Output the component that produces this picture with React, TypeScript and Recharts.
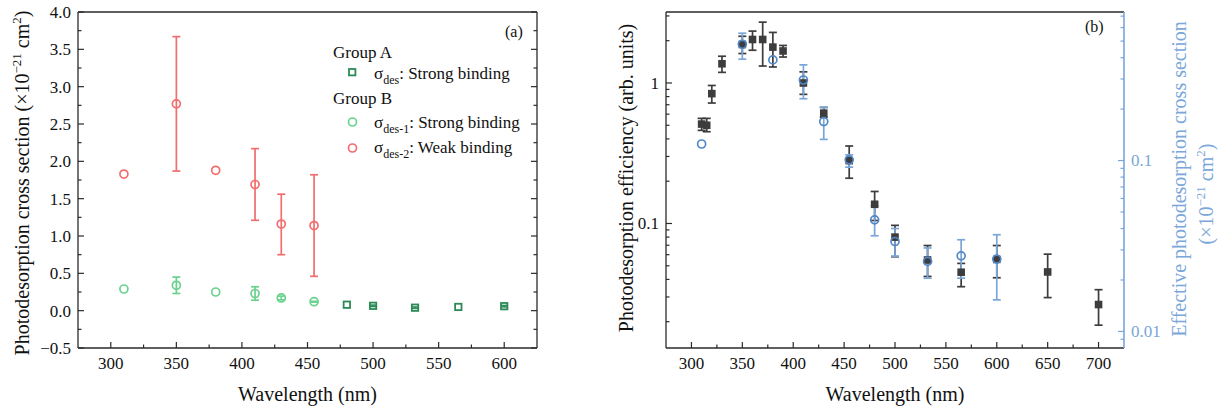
import React from 'react';
import { ComposedChart, Scatter, XAxis, YAxis, ErrorBar } from 'recharts';

const SERIF = "'Liberation Serif', 'Times New Roman', 'DejaVu Serif', serif";

// ---------- Panel (a) data ----------
const weakWl = [310, 350, 380, 410, 430, 455];
const weakVal = [1.83, 2.77, 1.88, 1.69, 1.16, 1.14];
const weakLow = [null, 1.87, null, 1.21, 0.75, 0.46];
const weakHigh = [null, 3.67, null, 2.17, 1.56, 1.82];

const strongBWl = [310, 350, 380, 410, 430, 455];
const strongBVal = [0.29, 0.34, 0.25, 0.23, 0.17, 0.12];
const strongBLow = [null, 0.23, null, 0.14, 0.145, 0.115];
const strongBHigh = [null, 0.45, null, 0.32, 0.195, 0.125];

const groupAWl = [480, 500, 532, 565, 600];
const groupAVal = [0.08, 0.065, 0.04, 0.05, 0.06];
const groupALow = [null, 0.055, 0.03, null, 0.05];
const groupAHigh = [null, 0.075, 0.05, null, 0.07];

const aXMajor = [300, 350, 400, 450, 500, 550, 600];
const aXMinor = [325, 375, 425, 475, 525, 575];
const aYMajor = [-0.5, 0, 0.5, 1, 1.5, 2, 2.5, 3, 3.5, 4];
const aYMinor = [-0.25, 0.25, 0.75, 1.25, 1.75, 2.25, 2.75, 3.25, 3.75];

// ---------- Panel (b) data ----------
const effWl = [310, 315, 320, 330, 350, 360, 370, 380, 390, 410, 430, 455, 480, 500, 532, 565, 600, 650, 700];
const effVal = [0.51, 0.5, 0.84, 1.37, 1.88, 2.04, 2.04, 1.8, 1.69, 1.0, 0.61, 0.28, 0.137, 0.08, 0.055, 0.045, 0.0555, 0.0452, 0.0265];
const effLow = [0.46, 0.45, 0.72, 1.19, 1.62, 1.71, 1.32, 1.3, 1.53, 0.83, 0.57, 0.21, 0.105, 0.058, 0.042, 0.0355, 0.0411, 0.0297, 0.0189];
const effHigh = [0.56, 0.56, 0.96, 1.55, 2.15, 2.34, 2.71, 2.29, 1.85, 1.2, 0.67, 0.356, 0.169, 0.097, 0.0697, 0.052, 0.0697, 0.0605, 0.0338];

const xsWl = [310, 350, 380, 410, 430, 455, 480, 500, 532, 565, 600];
const xsVal = [0.125, 0.479, 0.388, 0.296, 0.169, 0.101, 0.045, 0.0336, 0.0257, 0.0277, 0.0265];
const xsLow = [null, 0.392, null, 0.23, 0.133, 0.0915, 0.0363, 0.0276, 0.0205, 0.0205, 0.0153];
const xsHigh = [null, 0.556, null, 0.363, 0.205, 0.108, 0.0543, 0.04, 0.0308, 0.0344, 0.0368];

const bXMajor = [300, 350, 400, 450, 500, 550, 600, 650, 700];
const bXMinor = [325, 375, 425, 475, 525, 575, 625, 675];
const bYLMajor = [0.1, 1];
const bYLMinor = [0.02, 0.03, 0.04, 0.05, 0.06, 0.07, 0.08, 0.09, 0.2, 0.3, 0.4, 0.5, 0.6, 0.7, 0.8, 0.9, 2, 3];
const bYRMajor = [0.01, 0.1];
const bYRMinor = [0.009, 0.02, 0.03, 0.04, 0.05, 0.06, 0.07, 0.08, 0.09, 0.2, 0.3, 0.4, 0.5, 0.6, 0.7];

// ---------- colours ----------
const RED = '#f26d6d';
const LGREEN = '#6ad28e';
const DGREEN = '#2b8a55';
const DARK = '#3d3d3d';
const BLUE = '#5287c8';
const BLUE_AXIS = '#7aa6d8';
const AXIS = '#2a2a2a';

const serifStyle = { fontFamily: SERIF };

type Row = { x: number; y: number; err: number[] | null };
function buildRows(wl: number[], val: number[], low: (number | null)[], high: (number | null)[]): Row[] {
  return wl.map((x, i) => ({
    x,
    y: val[i],
    err: low[i] == null || high[i] == null ? null : [val[i] - (low[i] as number), (high[i] as number) - val[i]],
  }));
}

const weakRows = buildRows(weakWl, weakVal, weakLow, weakHigh);
const strongBRows = buildRows(strongBWl, strongBVal, strongBLow, strongBHigh);
const groupARows = buildRows(groupAWl, groupAVal, groupALow, groupAHigh);
const effRows = buildRows(effWl, effVal, effLow, effHigh);
const xsRows = buildRows(xsWl, xsVal, xsLow, xsHigh);

type Side = 'bottom' | 'top' | 'left' | 'right';
function makeTick(
  side: Side,
  majors: number[],
  color: string,
  fmt: ((v: number) => string) | null,
  labelColor?: string
) {
  return (props: any) => {
    const { x, y, payload } = props;
    const v = payload.value as number;
    const major = majors.some((m) => Math.abs(m - v) <= Math.abs(m) * 1e-6 + 1e-9);
    const len = major ? 6 : 3.5;
    let line: any = null;
    let label: any = null;
    const lc = labelColor || '#111';
    if (side === 'bottom') {
      line = <line x1={x} y1={y} x2={x} y2={y - len} stroke={color} strokeWidth={1.2} />;
      if (fmt && major)
        label = (
          <text x={x} y={y + 21} textAnchor="middle" style={serifStyle} fontSize={17} fill={lc}>
            {fmt(v)}
          </text>
        );
    } else if (side === 'top') {
      line = <line x1={x} y1={y} x2={x} y2={y + len} stroke={color} strokeWidth={1.2} />;
    } else if (side === 'left') {
      line = <line x1={x} y1={y} x2={x + len} y2={y} stroke={color} strokeWidth={1.2} />;
      if (fmt && major)
        label = (
          <text x={x - 7} y={y} dy="0.35em" textAnchor="end" style={serifStyle} fontSize={17} fill={lc}>
            {fmt(v)}
          </text>
        );
    } else {
      line = <line x1={x} y1={y} x2={x - len} y2={y} stroke={color} strokeWidth={1.2} />;
      if (fmt && major)
        label = (
          <text x={x + 7} y={y} dy="0.35em" textAnchor="start" style={serifStyle} fontSize={17} fill={lc}>
            {fmt(v)}
          </text>
        );
    }
    return (
      <g>
        {line}
        {label}
      </g>
    );
  };
}

const fmtA = (v: number) => (v < 0 ? '\u2212' + Math.abs(v).toFixed(1) : v.toFixed(1));
const fmtInt = (v: number) => String(v);
const fmtLog = (v: number) => String(v);

const openCircle = (color: string) => (p: any) =>
  p.cx == null ? <g /> : <circle cx={p.cx} cy={p.cy} r={4} fill="none" stroke={color} strokeWidth={1.7} />;
const openSquare = (color: string) => (p: any) =>
  p.cx == null ? <g /> : <rect x={p.cx - 3.2} y={p.cy - 3.2} width={6.4} height={6.4} fill="none" stroke={color} strokeWidth={1.8} />;
const filledSquare = (color: string) => (p: any) =>
  p.cx == null ? <g /> : <rect x={p.cx - 3.8} y={p.cy - 3.8} width={7.6} height={7.6} fill={color} stroke="none" />;

const sortTicks = (a: number[], b: number[]) => [...a, ...b].sort((m, n) => m - n);

function PanelA() {
  const xTicks = sortTicks(aXMajor, aXMinor);
  const yTicks = sortTicks(aYMajor, aYMinor);
  const axisLine = { stroke: AXIS, strokeWidth: 1.3 };
  return (
    <ComposedChart width={600} height={410} margin={{ top: 11, right: 53, bottom: 0, left: 0 }}>
      <XAxis
        xAxisId={0}
        type="number"
        dataKey="x"
        domain={[275, 625]}
        allowDataOverflow
        ticks={xTicks}
        interval={0}
        tickSize={0}
        tickMargin={0}
        tickLine={false}
        axisLine={axisLine}
        height={62}
        tick={makeTick('bottom', aXMajor, AXIS, fmtInt)}
      />
      <XAxis
        xAxisId="top"
        orientation="top"
        type="number"
        domain={[275, 625]}
        allowDataOverflow
        ticks={xTicks}
        interval={0}
        tickSize={0}
        tickMargin={0}
        tickLine={false}
        axisLine={axisLine}
        height={1}
        tick={makeTick('top', aXMajor, AXIS, null)}
      />
      <YAxis
        yAxisId={0}
        type="number"
        dataKey="y"
        domain={[-0.5, 4]}
        allowDataOverflow
        ticks={yTicks}
        interval={0}
        tickSize={0}
        tickMargin={0}
        tickLine={false}
        axisLine={axisLine}
        width={78}
        tick={makeTick('left', aYMajor, AXIS, fmtA)}
      />
      <YAxis
        yAxisId="r"
        orientation="right"
        type="number"
        domain={[-0.5, 4]}
        allowDataOverflow
        ticks={yTicks}
        interval={0}
        tickSize={0}
        tickMargin={0}
        tickLine={false}
        axisLine={axisLine}
        width={10}
        tick={makeTick('right', aYMajor, AXIS, null)}
      />
      <Scatter data={weakRows} dataKey="y" isAnimationActive={false} shape={openCircle(RED)}>
        <ErrorBar dataKey="err" direction="y" width={4} stroke={RED} strokeWidth={1.7} isAnimationActive={false} />
      </Scatter>
      <Scatter data={strongBRows} dataKey="y" isAnimationActive={false} shape={openCircle(LGREEN)}>
        <ErrorBar dataKey="err" direction="y" width={4} stroke={LGREEN} strokeWidth={1.7} isAnimationActive={false} />
      </Scatter>
      <Scatter data={groupARows} dataKey="y" isAnimationActive={false} shape={openSquare(DGREEN)}>
        <ErrorBar dataKey="err" direction="y" width={3} stroke={DGREEN} strokeWidth={1.5} isAnimationActive={false} />
      </Scatter>
    </ComposedChart>
  );
}

function PanelB() {
  const xTicks = sortTicks(bXMajor, bXMinor);
  const yLTicks = sortTicks(bYLMajor, bYLMinor);
  const yRTicks = sortTicks(bYRMajor, bYRMinor);
  const axisLine = { stroke: AXIS, strokeWidth: 1.3 };
  return (
    <ComposedChart width={625} height={410} margin={{ top: 11, right: 0, bottom: 0, left: 0 }}>
      <XAxis
        xAxisId={0}
        type="number"
        dataKey="x"
        domain={[275, 725]}
        allowDataOverflow
        ticks={xTicks}
        interval={0}
        tickSize={0}
        tickMargin={0}
        tickLine={false}
        axisLine={axisLine}
        height={62}
        tick={makeTick('bottom', bXMajor, AXIS, fmtInt)}
      />
      <XAxis
        xAxisId="top"
        orientation="top"
        type="number"
        domain={[275, 725]}
        allowDataOverflow
        ticks={xTicks}
        interval={0}
        tickSize={0}
        tickMargin={0}
        tickLine={false}
        axisLine={axisLine}
        height={1}
        tick={makeTick('top', bXMajor, AXIS, null)}
      />
      <YAxis
        yAxisId="left"
        type="number"
        dataKey="y"
        scale="log"
        domain={[0.013, 3.2]}
        allowDataOverflow
        ticks={yLTicks}
        interval={0}
        tickSize={0}
        tickMargin={0}
        tickLine={false}
        axisLine={axisLine}
        width={66}
        tick={makeTick('left', bYLMajor, AXIS, fmtLog)}
      />
      <YAxis
        yAxisId="right"
        orientation="right"
        type="number"
        dataKey="y"
        scale="log"
        domain={[0.008, 0.74]}
        allowDataOverflow
        ticks={yRTicks}
        interval={0}
        tickSize={0}
        tickMargin={0}
        tickLine={false}
        axisLine={{ stroke: BLUE_AXIS, strokeWidth: 1.6 }}
        width={101}
        tick={makeTick('right', bYRMajor, BLUE_AXIS, fmtLog, BLUE_AXIS)}
      />
      <Scatter data={effRows} dataKey="y" yAxisId="left" isAnimationActive={false} shape={filledSquare(DARK)}>
        <ErrorBar dataKey="err" direction="y" width={4} stroke={DARK} strokeWidth={1.7} isAnimationActive={false} />
      </Scatter>
      <Scatter data={xsRows} dataKey="y" yAxisId="right" isAnimationActive={false} shape={openCircle(BLUE)}>
        <ErrorBar dataKey="err" direction="y" width={4} stroke={BLUE_AXIS} strokeWidth={1.7} isAnimationActive={false} />
      </Scatter>
    </ComposedChart>
  );
}

function SigmaLabel({ x, y, sub, rest }: { x: number; y: number; sub: string; rest: string }) {
  return (
    <text x={x} y={y} fontSize={17} fill="#111" style={serifStyle}>
      σ
      <tspan fontSize={12} dy={5}>
        {sub}
      </tspan>
      <tspan dy={-5}>{rest}</tspan>
    </text>
  );
}

function Overlay() {
  return (
    <svg
      width={1225}
      height={410}
      style={{ position: 'absolute', left: 0, top: 0, pointerEvents: 'none', fontFamily: SERIF }}
    >
      {/* Panel a titles */}
      <text x={307.5} y={401} textAnchor="middle" fontSize={20} fill="#111" style={serifStyle}>
        Wavelength (nm)
      </text>
      <text transform="translate(29,183) rotate(-90)" textAnchor="middle" fontSize={20} fill="#111" style={serifStyle}>
        Photodesorption cross section (×10
        <tspan fontSize={13} dy={-8}>
          −21
        </tspan>
        <tspan dy={8}> cm</tspan>
        <tspan fontSize={13} dy={-8}>
          2
        </tspan>
        <tspan dy={8}>)</tspan>
      </text>
      <text x={505} y={37} fontSize={16} fill="#111" style={serifStyle}>
        (a)
      </text>
      {/* legend */}
      <text x={333} y={58} fontSize={17} fill="#111" style={serifStyle}>
        Group A
      </text>
      <rect x={349} y={69} width={6.4} height={6.4} fill="none" stroke={DGREEN} strokeWidth={1.8} />
      <SigmaLabel x={374} y={79} sub="des" rest=": Strong binding" />
      <text x={333} y={104} fontSize={17} fill="#111" style={serifStyle}>
        Group B
      </text>
      <circle cx={352.5} cy={122} r={4} fill="none" stroke={LGREEN} strokeWidth={1.7} />
      <SigmaLabel x={374} y={128} sub="des-1" rest=": Strong binding" />
      <circle cx={352.5} cy={148} r={4} fill="none" stroke={RED} strokeWidth={1.7} />
      <SigmaLabel x={374} y={153} sub="des-2" rest=": Weak binding" />

      {/* Panel b titles */}
      <text x={895} y={401} textAnchor="middle" fontSize={20} fill="#111" style={serifStyle}>
        Wavelength (nm)
      </text>
      <text transform="translate(633,178) rotate(-90)" textAnchor="middle" fontSize={20} fill="#111" style={serifStyle}>
        Photodesorption efficiency (arb. units)
      </text>
      <text x={1085} y={32} fontSize={16} fill="#111" style={serifStyle}>
        (b)
      </text>
      <text transform="translate(1186,179) rotate(-90)" textAnchor="middle" fontSize={20} fill={BLUE_AXIS} style={serifStyle}>
        Effective photodesorption cross section
      </text>
      <text transform="translate(1213,194) rotate(-90)" textAnchor="middle" fontSize={20} fill={BLUE_AXIS} style={serifStyle}>
        (×10
        <tspan fontSize={13} dy={-8}>
          −21
        </tspan>
        <tspan dy={8}> cm</tspan>
        <tspan fontSize={13} dy={-8}>
          2
        </tspan>
        <tspan dy={8}>)</tspan>
      </text>
    </svg>
  );
}

export default function App() {
  return (
    <div
      style={{
        position: 'absolute',
        left: 0,
        top: 0,
        width: 1225,
        height: 410,
        background: '#fff',
        fontFamily: SERIF,
      }}
    >
      <div style={{ position: 'absolute', left: 0, top: 0 }}>
        <PanelA />
      </div>
      <div style={{ position: 'absolute', left: 600, top: 0 }}>
        <PanelB />
      </div>
      <Overlay />
    </div>
  );
}
